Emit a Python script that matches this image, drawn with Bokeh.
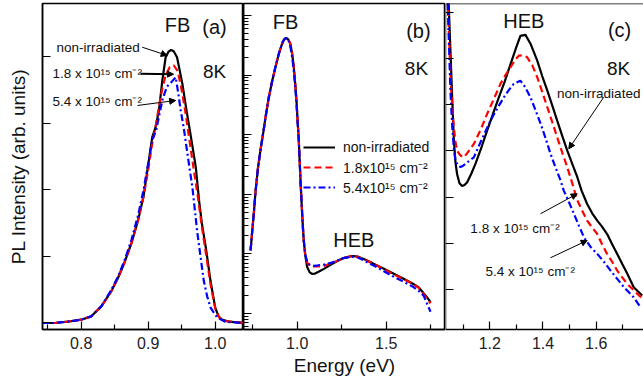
from bokeh.plotting import figure
from bokeh.layouts import row
from bokeh.models import (Range1d, FixedTicker, LogTicker, Label, Arrow, NormalHead,
                          Legend, LegendItem, LinearAxis, NumeralTickFormatter,
                          CustomJSTickFormatter)
from bokeh.embed import file_html
from bokeh.resources import INLINE

FONT = "Liberation Sans"

# ---------------- data ----------------
# panel (a): FB band, linear intensity
a_e_black = [0.742, 0.76, 0.78, 0.80, 0.815, 0.83, 0.845, 0.855, 0.865, 0.875, 0.885, 0.893, 0.898,
             0.906, 0.911, 0.916, 0.921, 0.926, 0.930, 0.934, 0.938, 0.943, 0.951, 0.957, 0.963, 0.971,
             0.976, 0.980, 0.986, 0.993, 1.000, 1.005, 1.010, 1.020, 1.042]
a_black = [0.0, 0.0, 0.02, 0.05, 0.1, 0.25, 0.48, 0.68, 0.92, 1.2, 1.55, 1.9, 2.24,
           2.79, 2.94, 3.19, 3.64, 3.99, 4.07, 4.1, 4.08, 3.99, 3.59, 3.2, 2.84, 2.34,
           1.83, 1.5, 1.13, 0.63, 0.23, 0.1, 0.05, 0.02, 0.0]
a_e_red = [0.742, 0.76, 0.78, 0.80, 0.815, 0.83, 0.845, 0.855, 0.865, 0.875, 0.885, 0.893, 0.90,
           0.906, 0.911, 0.916, 0.921, 0.926, 0.932, 0.938, 0.944, 0.949, 0.955, 0.961, 0.968,
           0.974, 0.98, 0.986, 0.993, 1.0, 1.006, 1.015, 1.042]
a_red = [0.0, 0.0, 0.02, 0.05, 0.1, 0.25, 0.48, 0.68, 0.92, 1.2, 1.55, 1.9, 2.3,
         2.7, 2.95, 3.25, 3.52, 3.72, 3.84, 3.87, 3.78, 3.55, 3.2, 2.78, 2.3,
         1.9, 1.45, 1.05, 0.58, 0.22, 0.08, 0.03, 0.0]
a_e_blue = [0.742, 0.76, 0.78, 0.80, 0.815, 0.83, 0.845, 0.855, 0.865, 0.875, 0.885, 0.893, 0.90,
            0.906, 0.912, 0.917, 0.922, 0.928, 0.935, 0.941, 0.945, 0.948, 0.953, 0.96, 0.966,
            0.973, 0.978, 0.983, 0.988, 0.993, 1.003, 1.015, 1.042]
a_blue = [0.0, 0.0, 0.02, 0.05, 0.1, 0.25, 0.5, 0.7, 0.95, 1.25, 1.62, 2.0, 2.4,
          2.75, 2.9, 3.15, 3.38, 3.55, 3.62, 3.69, 3.44, 3.22, 2.93, 2.44, 2.03,
          1.38, 1.0, 0.63, 0.4, 0.23, 0.08, 0.02, 0.0]

# panel (b): whole spectrum, log intensity
b_e = [0.738, 0.745, 0.756, 0.766, 0.780, 0.794, 0.810, 0.822, 0.840, 0.860, 0.880, 0.897, 0.910,
       0.921, 0.930, 0.940, 0.950, 0.962, 0.972, 0.981, 0.989, 0.996, 1.003, 1.009, 1.014, 1.019,
       1.024, 1.028, 1.033, 1.037, 1.045, 1.056, 1.070, 1.085, 1.100, 1.120, 1.150, 1.190, 1.225,
       1.260, 1.300, 1.318, 1.340, 1.370, 1.393, 1.440, 1.487, 1.540, 1.600, 1.650, 1.683, 1.710,
       1.730, 1.749]
b_black = [11.5, 20.0, 46.8, 112, 282, 562, 1120, 1950, 4170, 8130, 14500, 22900, 30200,
           37200, 40700, 41700, 39800, 33100, 22400, 13500, 7080, 3720, 1580, 794, 355, 158,
           79.4, 46.8, 25.1, 16.6, 9.55, 6.03, 4.90, 4.62, 4.68, 5.01, 5.62, 6.61, 7.59,
           8.51, 9.12, 9.23, 9.02, 8.32, 7.76, 6.61, 5.62, 4.68, 3.80, 3.16, 2.75, 2.19,
           1.86, 1.55]
b_red = [11.5, 20.0, 46.8, 112, 282, 562, 1120, 1950, 4170, 8130, 14500, 22900, 30200,
         37200, 40700, 41700, 39800, 33100, 22400, 13500, 7080, 3720, 1580, 794, 355, 158,
         79.4, 46.8, 25.1, 16.6, 10.0, 7.24, 6.31, 6.2, 6.17, 6.17, 6.31, 6.92, 7.59,
         8.51, 9.12, 9.23, 8.91, 8.22, 7.67, 6.53, 5.56, 4.57, 3.76, 3.16, 2.69, 2.14,
         1.78, 1.48]
b_blue = [11.5, 20.0, 46.8, 112, 282, 562, 1120, 1950, 4170, 8130, 14500, 22900, 30200,
          37200, 40700, 41700, 39000, 29500, 19500, 11700, 6310, 3310, 1480, 794, 355, 158,
          79.4, 46.8, 25.1, 16.6, 10.0, 7.41, 6.61, 6.4, 6.31, 6.46, 6.61, 7.08, 7.76,
          8.51, 8.91, 9.02, 8.71, 7.94, 7.24, 6.17, 5.13, 4.17, 3.39, 2.82, 2.40, 2.00,
          1.45, 1.07]

# panel (c): HEB band, linear intensity
c_e_black = [1.035, 1.046, 1.052, 1.059, 1.065, 1.071, 1.077, 1.086, 1.096, 1.105, 1.115, 1.13,
             1.146, 1.17, 1.19, 1.212, 1.234, 1.256, 1.278, 1.297, 1.315, 1.334, 1.353, 1.378,
             1.397, 1.416, 1.435, 1.453, 1.472, 1.491, 1.51, 1.529, 1.545, 1.566, 1.585, 1.604,
             1.622, 1.641, 1.66, 1.679, 1.698, 1.717, 1.741, 1.773]
c_black = [8.5, 7.1, 6.17, 5.09, 4.23, 3.75, 3.5, 3.3, 3.24, 3.26, 3.32, 3.5,
           3.72, 4.1, 4.44, 4.8, 5.16, 5.5, 5.88, 6.2, 6.49, 6.51, 6.32, 5.96,
           5.62, 5.31, 4.98, 4.66, 4.33, 4.01, 3.72, 3.43, 3.14, 2.85, 2.65, 2.49,
           2.36, 2.2, 1.98, 1.77, 1.55, 1.34, 1.05, 0.87]
c_e_red = [1.035, 1.046, 1.053, 1.06, 1.065, 1.071, 1.077, 1.09, 1.102, 1.115, 1.14, 1.165,
           1.19, 1.215, 1.24, 1.26, 1.278, 1.295, 1.309, 1.325, 1.34, 1.36, 1.378, 1.397,
           1.416, 1.435, 1.453, 1.472, 1.491, 1.51, 1.529, 1.548, 1.566, 1.585, 1.604, 1.622,
           1.641, 1.66, 1.679, 1.698, 1.717, 1.754, 1.775]
c_red = [8.5, 6.6, 5.5, 4.85, 4.51, 4.2, 4.0, 3.9, 3.86, 3.95, 4.15, 4.45,
         4.8, 5.12, 5.45, 5.65, 5.81, 5.97, 6.06, 6.07, 6.03, 5.85, 5.6, 5.28,
         4.95, 4.62, 4.3, 3.97, 3.65, 3.3, 2.93, 2.7, 2.49, 2.34, 2.2, 1.98,
         1.77, 1.6, 1.41, 1.26, 1.12, 0.91, 0.8]
c_e_blue = [1.035, 1.045, 1.052, 1.059, 1.065, 1.071, 1.08, 1.09, 1.1, 1.115, 1.14, 1.17,
            1.203, 1.228, 1.253, 1.272, 1.29, 1.315, 1.333, 1.353, 1.372, 1.391, 1.41, 1.428,
            1.447, 1.466, 1.478, 1.497, 1.516, 1.535, 1.554, 1.579, 1.604, 1.629, 1.654, 1.679,
            1.704, 1.741, 1.766]
c_blue = [8.5, 6.6, 5.3, 4.51, 4.05, 3.79, 3.68, 3.65, 3.68, 3.75, 3.86, 4.25,
          4.66, 4.92, 5.16, 5.32, 5.45, 5.52, 5.38, 5.16, 4.88, 4.59, 4.27, 3.94,
          3.64, 3.36, 3.14, 2.9, 2.64, 2.38, 2.13, 1.92, 1.77, 1.6, 1.41, 1.23,
          1.05, 0.83, 0.62]

series_labels = ["non-irradiated", "1.8x10\u00b9\u2075 cm\u207b\u00b2", "5.4x10\u00b9\u2075 cm\u207b\u00b2"]
annot_labels = ["non-irradiated", "1.8 x 10\u00b9\u2075 cm\u207b\u00b2", "5.4 x 10\u00b9\u2075 cm\u207b\u00b2"]

a_xticks = [0.8, 0.9, 1.0]
a_xminor = [0.75, 0.85, 0.95]
b_xticks = [1.0, 1.5]
b_xminor = [0.75, 1.25, 1.75]
c_xticks = [1.2, 1.4, 1.6]
c_xminor = [1.1, 1.3, 1.5, 1.7]

BLACK, RED, BLUE = "#000000", "#ff0000", "#0000ff"
FRAME_H = 326
EMPTY = "return '';"


def make_fig(frame_w, xr, yr, y_type="linear", left=0, fixed_y=True):
    p = figure(frame_width=frame_w, frame_height=FRAME_H, x_range=xr, y_range=yr,
               y_axis_type=y_type, output_backend="svg", toolbar_location=None, title=None,
               min_border_left=left, min_border_right=0, min_border_top=3,
               min_border_bottom=58)
    p.grid.visible = False
    p.background_fill_color = "white"
    p.border_fill_color = "white"
    p.outline_line_color = "black"
    p.outline_line_width = 1.5
    for ax in p.xaxis + p.yaxis:
        ax.axis_line_width = 1.5
        ax.major_tick_in = 8
        ax.major_tick_out = 0
        ax.minor_tick_in = 5
        ax.minor_tick_out = 0
        ax.major_tick_line_width = 1.2
        ax.minor_tick_line_width = 1.2
    for ax in p.xaxis:
        ax.major_label_text_font = FONT
        ax.major_label_text_font_size = "16px"
        ax.major_label_text_color = "#222222"
        ax.major_label_standoff = 7
        ax.formatter = NumeralTickFormatter(format="0.0")
    for ax in p.yaxis:
        ax.formatter = CustomJSTickFormatter(code=EMPTY)
        ax.major_label_standoff = 0
        if fixed_y:
            ax.fixed_location = xr.start
    return p


def add_label(p, x, y, text, size, align="center", baseline="middle"):
    p.add_layout(Label(x=x, y=y, text=text, text_font=FONT, text_font_size=size,
                       text_align=align, text_baseline=baseline, text_color="#111111"))


def add_arrow(p, x0, y0, x1, y1, w=1.0):
    p.add_layout(Arrow(x_start=x0, y_start=y0, x_end=x1, y_end=y1, line_width=w,
                       line_color="black",
                       end=NormalHead(size=6, fill_color="black", line_color="black",
                                      line_width=1)))


# ---------------- panel (a) ----------------
pa = make_fig(201, Range1d(0.7422, 1.0422), Range1d(-0.0976, 4.797), left=42, fixed_y=False)
pa.xaxis.ticker = FixedTicker(ticks=a_xticks, minor_ticks=a_xminor)
pa.yaxis.ticker = FixedTicker(ticks=[0, 1, 2, 3, 4], minor_ticks=[])
pa.yaxis.axis_label = "PL Intensity (arb. units)"
pa.yaxis.axis_label_text_font = FONT
pa.yaxis.axis_label_text_font_size = "19px"
pa.yaxis.axis_label_text_font_style = "normal"
pa.yaxis.axis_label_text_color = "#111111"
pa.yaxis.axis_label_standoff = 14
pa.line(a_e_black, a_black, line_color=BLACK, line_width=2.2)
pa.line(a_e_red, a_red, line_color=RED, line_width=2.2, line_dash="7 4")
pa.line(a_e_blue, a_blue, line_color=BLUE, line_width=2.2, line_dash="7 3 2 3")
add_label(pa, 0.9437, 4.467, "FB", "20px")
add_label(pa, 0.999, 4.437, "(a)", "20px")
add_label(pa, 0.999, 3.776, "8K", "19px")
add_label(pa, 0.7631, 4.141, annot_labels[0], "13.5px", align="left")
add_arrow(pa, 0.891, 4.141, 0.9283, 4.017)
add_label(pa, 0.7572, 3.75, annot_labels[1], "13.5px", align="left")
add_arrow(pa, 0.8885, 3.742, 0.9378, 3.735, w=2.0)
add_label(pa, 0.7572, 3.32, annot_labels[2], "13.5px", align="left")
add_arrow(pa, 0.884, 3.266, 0.9409, 3.341)

# ---------------- panel (b) ----------------
pb = make_fig(202, Range1d(0.6983, 1.8331), Range1d(0.54, 158900), y_type="log")
pb.xaxis.ticker = FixedTicker(ticks=b_xticks, minor_ticks=b_xminor)
pb.yaxis.ticker = LogTicker(num_minor_ticks=10)
pb.xaxis.axis_label = "Energy (eV)"
pb.xaxis.axis_label_text_font = FONT
pb.xaxis.axis_label_text_font_size = "19px"
pb.xaxis.axis_label_text_font_style = "normal"
pb.xaxis.axis_label_text_color = "#111111"
pb.xaxis.axis_label_standoff = 3
r_bk = pb.line(b_e, b_black, line_color=BLACK, line_width=2.2)
r_rd = pb.line(b_e, b_red, line_color=RED, line_width=2.2, line_dash="7 4")
r_bl = pb.line(b_e, b_blue, line_color=BLUE, line_width=2.2, line_dash="7 3 2 3")
add_label(pb, 0.934, 77300, "FB", "20px")
add_label(pb, 1.681, 56000, "(b)", "20px")
add_label(pb, 1.670, 12900, "8K", "19px")
add_label(pb, 1.318, 17.3, "HEB", "20px")
legend = Legend(items=[LegendItem(label=series_labels[0], renderers=[r_bk]),
                       LegendItem(label=series_labels[1], renderers=[r_rd]),
                       LegendItem(label=series_labels[2], renderers=[r_bl])],
                location=(60, 132), border_line_color=None, background_fill_alpha=0,
                padding=0, margin=0, spacing=0, glyph_width=32, glyph_height=20,
                label_height=20, label_standoff=8, label_text_font=FONT,
                label_text_font_size="14px", label_text_color="#111111")
pb.add_layout(legend)

# ---------------- panel (c) ----------------
pc = make_fig(198, Range1d(1.0335, 1.7778), Range1d(0.134, 7.19))
pc.xaxis.ticker = FixedTicker(ticks=c_xticks, minor_ticks=c_xminor)
pc.yaxis.ticker = FixedTicker(ticks=[1, 2, 3, 4, 5, 6, 7], minor_ticks=[])
pc.outline_line_color = None
top = LinearAxis(fixed_location=7.19, ticker=FixedTicker(ticks=[], minor_ticks=[]),
                 formatter=CustomJSTickFormatter(code=EMPTY),
                 axis_line_width=1.5, major_tick_in=0, major_tick_out=0,
                 minor_tick_in=0, minor_tick_out=0)
pc.add_layout(top, "above")
pc.line(c_e_black, c_black, line_color=BLACK, line_width=2.2)
pc.line(c_e_red, c_red, line_color=RED, line_width=2.2, line_dash="7 4")
pc.line(c_e_blue, c_blue, line_color=BLUE, line_width=2.2, line_dash="7 3 2 3")
add_label(pc, 1.328, 6.82, "HEB", "20px")
add_label(pc, 1.688, 6.61, "(c)", "20px")
add_label(pc, 1.684, 5.78, "8K", "19px")
add_label(pc, 1.453, 5.25, annot_labels[0], "13.5px", align="left")
add_arrow(pc, 1.6275, 5.156, 1.497, 4.045)
add_label(pc, 1.127, 2.33, annot_labels[1], "13.5px", align="left")
add_arrow(pc, 1.3906, 2.639, 1.5286, 3.071)
add_label(pc, 1.184, 1.39, annot_labels[2], "13.5px", align="left")
add_arrow(pc, 1.428, 1.686, 1.566, 2.061)

layout = row(pa, pb, pc, spacing=0)
open("out.html", "w").write(file_html(layout, INLINE))
